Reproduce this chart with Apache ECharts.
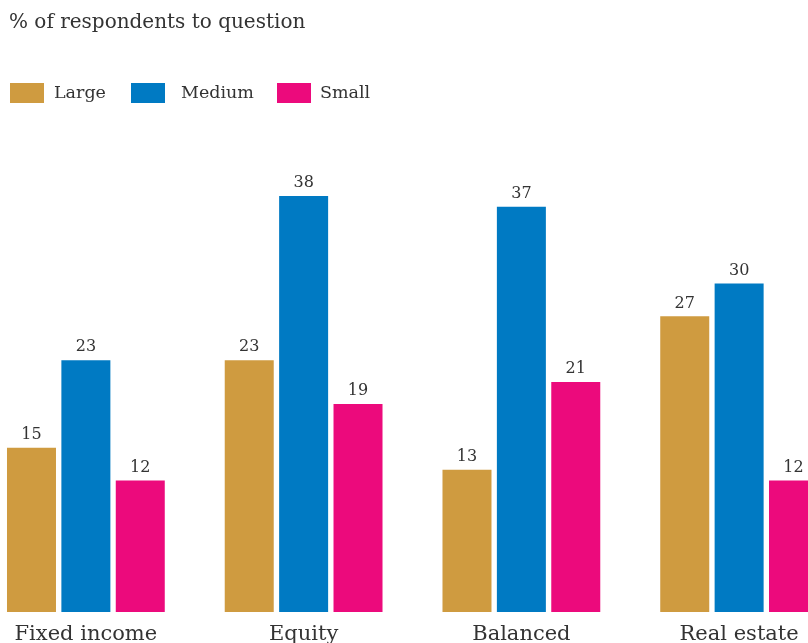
<!DOCTYPE html>
<html>
<head>
<meta charset="utf-8">
<script src="https://cdn.jsdelivr.net/npm/echarts@6/dist/echarts.min.js"></script>
<style>
  html, body { margin: 0; padding: 0; background: #fff; overflow: hidden; }
  /* the plot runs past both edges of the picture, so the canvas is wider and shifted left */
  #chart { width: 871px; height: 643px; margin-left: -23px; }
</style>
</head>
<body>
<div id="chart"></div>
<script>
var categories = ['Fixed income', 'Equity', 'Balanced', 'Real estate']
var largeValues = [15, 23, 13, 27]
var mediumValues = [23, 38, 37, 30]
var smallValues = [12, 19, 21, 12]

var fontFamily = '"DejaVu Serif", serif'
var textColor = '#333'
var shift = 23

var chart = echarts.init(document.getElementById('chart'))

function barSeries(name, values, color) {
  return {
    name: name,
    type: 'bar',
    data: values,
    barWidth: 49,
    barGap: '11%',
    itemStyle: { color: color },
    label: {
      show: true,
      position: 'top',
      distance: 5,
      color: textColor,
      fontFamily: fontFamily,
      fontSize: 16
    }
  }
}

function legendAt(name, left, pad) {
  return {
    data: [name],
    left: left + shift,
    top: 78,
    itemWidth: 34,
    itemHeight: 20,
    itemGap: 0,
    icon: 'rect',
    selectedMode: false,
    textStyle: {
      color: textColor,
      fontFamily: fontFamily,
      fontSize: 17.5,
      padding: [0, 0, 0, pad]
    }
  }
}

chart.setOption({
  animation: false,
  title: {
    text: '% of respondents to question',
    left: 4 + shift,
    top: 8,
    textStyle: {
      color: textColor,
      fontFamily: fontFamily,
      fontWeight: 'normal',
      fontSize: 20
    }
  },
  legend: [
    legendAt('Large', 5, 5),
    legendAt('Medium', 126, 11),
    legendAt('Small', 272, 4)
  ],
  grid: {
    left: 0,
    right: 0,
    top: 174,
    bottom: 31,
    containLabel: false,
    outerBoundsMode: 'none'
  },
  xAxis: {
    type: 'category',
    data: categories,
    axisLine: { show: false },
    axisTick: { show: false },
    axisLabel: {
      margin: 12,
      color: textColor,
      fontFamily: fontFamily,
      fontSize: 21
    }
  },
  yAxis: {
    type: 'value',
    min: 0,
    max: 40,
    show: false
  },
  series: [
    barSeries('Large', largeValues, '#CF9B40'),
    barSeries('Medium', mediumValues, '#007AC3'),
    barSeries('Small', smallValues, '#EC0A7C')
  ]
})
</script>
</body>
</html>
